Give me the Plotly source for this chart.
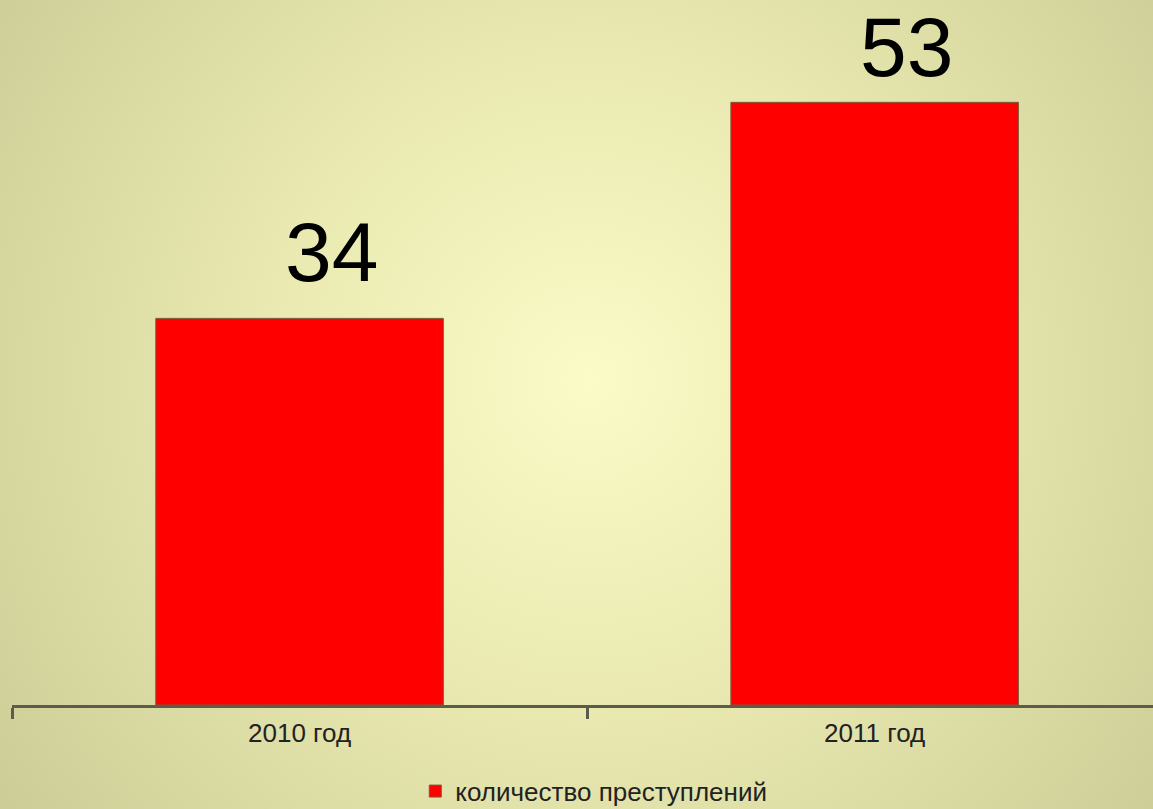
import base64
import plotly.graph_objects as go

# ---- data ----
categories = ["2010 год", "2011 год"]
values = [34, 53]
series_name = "количество преступлений"

# ---- style ----
W, H = 1153, 809
label_gap = [17, 6]  # vertical offsets of value labels (px)
FONT = "Arial, Liberation Sans, sans-serif"

svg = f'''<svg xmlns="http://www.w3.org/2000/svg" width="{W}" height="{H}" viewBox="0 0 {W} {H}">
<defs><radialGradient id="g" gradientUnits="userSpaceOnUse" cx="590" cy="380" r="720">
<stop offset="0" stop-color="#fbfbc8"/>
<stop offset="0.45" stop-color="#e9e9b1"/>
<stop offset="1" stop-color="#cdcd97"/>
</radialGradient></defs>
<rect width="{W}" height="{H}" fill="url(#g)"/></svg>'''
bg_uri = "data:image/svg+xml;base64," + base64.b64encode(svg.encode()).decode()

fig = go.Figure()
fig.add_trace(go.Bar(
    x=categories, y=values, name=series_name, width=0.5,
    marker=dict(color="#ff0000", line=dict(color="#7a5a3a", width=1)),
    showlegend=True,
))

for c, v, g in zip(categories, values, label_gap):
    fig.add_annotation(x=c, y=v, text=str(v), showarrow=False,
                       yanchor="bottom", xanchor="center", xshift=32, yshift=g,
                       font=dict(family=FONT, size=84, color="#000000"))

fig.update_layout(
    width=W, height=H,
    margin=dict(l=0, r=0, t=0, b=0, pad=0, autoexpand=False),
    paper_bgcolor="#e0e0a8", plot_bgcolor="rgba(0,0,0,0)",
    font=dict(family=FONT, color="#222222"),
    images=[dict(source=bg_uri, xref="paper", yref="paper", x=0, y=1,
                 sizex=1, sizey=1, xanchor="left", yanchor="top",
                 sizing="stretch", layer="below")],
    xaxis=dict(domain=[12 / W, 1], range=[-0.5, 1.484], type="category",
               showline=True, linecolor="#5c5c4c", linewidth=2.5,
               ticks="outside", tickson="boundaries", ticklen=11,
               tickwidth=2.5, tickcolor="#5c5c4c", ticklabelstandoff=3,
               tickfont=dict(size=26, color="#222222", family=FONT),
               showgrid=False, zeroline=False),
    yaxis=dict(domain=[1 - 705 / H, 1], range=[0, 62.0], visible=False,
               showgrid=False, zeroline=False),
    showlegend=True,
    legend=dict(orientation="h", x=0.515, xanchor="center", y=-0.007, yanchor="bottom",
                bgcolor="rgba(0,0,0,0)", font=dict(size=26, color="#222222", family=FONT)),
    bargap=0.5,
)

fig.write_html("out.html", config={"displayModeBar": False},
               post_script="document.body.style.margin='0';document.body.style.overflow='hidden';")
